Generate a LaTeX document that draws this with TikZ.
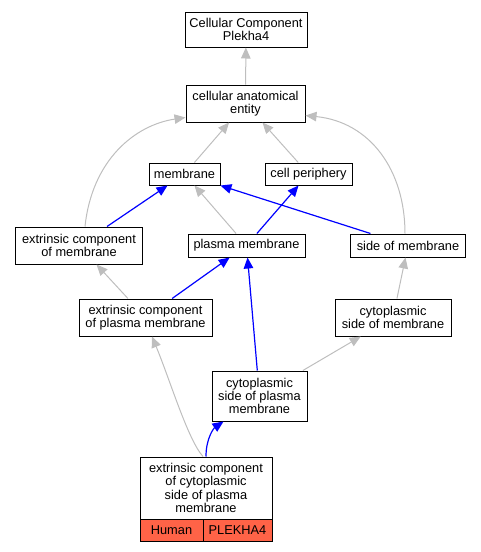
\documentclass[tikz,border=0pt]{standalone}
\usepackage{fontspec}
\setmainfont{Liberation Sans}
\usetikzlibrary{arrows.meta}
\definecolor{isagray}{RGB}{190,190,190}
\definecolor{tomatored}{RGB}{255,99,71}

\tikzset{
	term/.style={draw,line width=1pt,fill=white,align=center,inner sep=0pt,font=\fontsize{12.8}{13.3}\selectfont},
	isa/.style={draw=isagray,line width=1pt,-{Triangle[length=11pt,width=9.5pt]}},
	partof/.style={draw=blue,line width=1.2pt,-{Triangle[length=11pt,width=9.5pt]}}
}

\begin{document}
\begin{tikzpicture}[x=1pt,y=-1pt]
	\useasboundingbox (0,0) rectangle (481,552);
	
	%terms
	\node[term,minimum width=122pt,minimum height=35pt] (top) at (246,29.5) {Cellular Component\\Plekha4};
	\node[term,minimum width=119pt,minimum height=37pt] (cae) at (245.5,103.5) {cellular anatomical\\entity};
	\node[term,minimum width=71pt,minimum height=22pt] (mem) at (184.5,174) {membrane};
	\node[term,minimum width=87pt,minimum height=22pt] (cp) at (308.5,174) {cell periphery};
	\node[term,minimum width=127pt,minimum height=37pt] (ecm) at (79,245.5) {extrinsic component\\of membrane};
	\node[term,minimum width=117pt,minimum height=23pt] (pm) at (246.5,245.5) {plasma membrane};
	\node[term,minimum width=115pt,minimum height=23pt] (som) at (408,245.5) {side of membrane};
	\node[term,minimum width=133pt,minimum height=37pt] (ecpm) at (145.5,317.5) {extrinsic component\\of plasma membrane};
	\node[term,minimum width=116pt,minimum height=37pt] (csm) at (393,317.5) {cytoplasmic\\side of membrane};
	\node[term,minimum width=95pt,minimum height=50pt] (cspm) at (259.5,396) {cytoplasmic\\side of plasma\\membrane};
	\node[term,minimum width=132pt,minimum height=62pt] (bot) at (206,488) {extrinsic component\\of cytoplasmic\\side of plasma\\membrane};
	\node[term,fill=tomatored,minimum width=63pt,minimum height=22pt] (human) at (171.5,530) {Human};
	\node[term,fill=tomatored,minimum width=69pt,minimum height=22pt] (gene) at (237.5,530) {PLEKHA4};
	
	%is_a
	\draw[isa] (cae) -- (top);
	\draw[isa] (mem) -- (cae);
	\draw[isa] (cp) -- (cae);
	\draw[isa] ([xshift=6pt]ecm.north) .. controls (92,160) and (135,125) .. ([yshift=5pt]cae.south west);
	\draw[isa] ([xshift=-3pt]som.north) .. controls (405,170) and (370,122) .. ([yshift=7pt]cae.south east);
	\draw[isa] (pm) -- (mem);
	\draw[isa] (ecpm) -- (ecm);
	\draw[isa] (csm) -- (som);
	\draw[isa] (cspm) -- (csm);
	\draw[isa] ([xshift=-3pt]bot.north) .. controls (188,440) and (170,380) .. ([xshift=6.5pt]ecpm.south);
	
	%part_of
	\draw[partof] (ecm) -- (mem);
	\draw[partof] (pm) -- (cp);
	\draw[partof] (som) -- (mem);
	\draw[partof] (ecpm) -- (pm);
	\draw[partof] (cspm) -- (pm);
	\draw[partof] (bot.north) .. controls (206,438) and (214,428) .. ([xshift=12pt]cspm.south west);
\end{tikzpicture}
\end{document}
